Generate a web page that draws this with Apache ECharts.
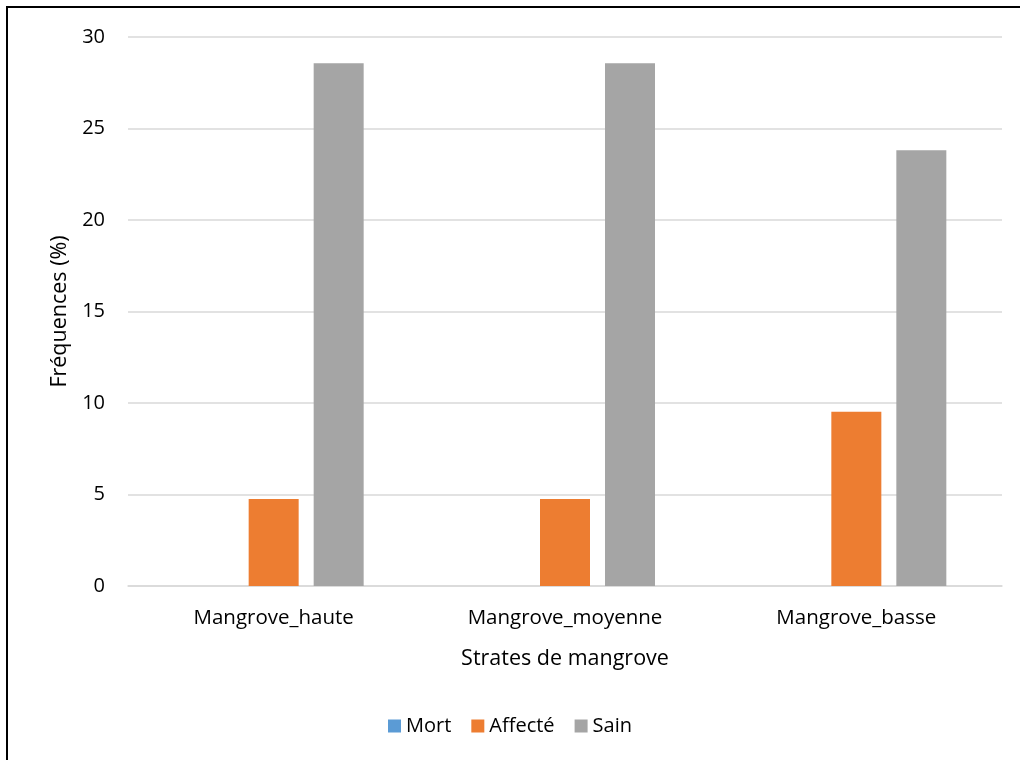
<!DOCTYPE html>
<html>
<head>
<meta charset="utf-8">
<script src="https://cdn.jsdelivr.net/npm/echarts@6/dist/echarts.min.js"></script>
<style>
  html, body { margin: 0; padding: 0; background: #fff; }
  #chart { width: 1020px; height: 760px; }
</style>
</head>
<body>
<div id="chart"></div>
<script>
// Strata of mangrove and the share of trees in each health state (%)
const categories = ['Mangrove_haute', 'Mangrove_moyenne', 'Mangrove_basse'];
const mort = [0, 0, 0];
const affecte = [4.76, 4.76, 9.52];
const sain = [28.57, 28.57, 23.81];
const yTicks = { min: 0, max: 30, interval: 5 };

const FONT = '"Open Sans", "Noto Sans", sans-serif';
const chart = echarts.init(document.getElementById('chart'));

chart.setOption({
  animation: false,
  textStyle: { fontFamily: FONT },
  graphic: [{
    type: 'rect',
    shape: { x: 7, y: 7, width: 1040, height: 800 },
    style: { fill: 'none', stroke: '#000', lineWidth: 2 },
    silent: true
  }],
  grid: { left: 128, right: 18, top: 37, bottom: 174, containLabel: false },
  legend: {
    bottom: 19,
    left: 'center',
    itemWidth: 13,
    itemHeight: 13,
    itemGap: 20,
    icon: 'rect',
    textStyle: { fontFamily: FONT, fontSize: 20, color: '#000' },
    data: ['Mort', 'Affecté', 'Sain']
  },
  xAxis: {
    type: 'category',
    data: categories,
    name: 'Strates de mangrove',
    nameLocation: 'middle',
    nameGap: 62,
    nameTextStyle: { fontFamily: FONT, fontSize: 21.5, color: '#000' },
    axisLine: { show: true, lineStyle: { color: '#D9D9D9', width: 1.5 } },
    axisTick: { show: false },
    axisLabel: { fontFamily: FONT, fontSize: 20.5, color: '#000', margin: 22 }
  },
  yAxis: {
    type: 'value',
    min: yTicks.min,
    max: yTicks.max,
    interval: yTicks.interval,
    name: 'Fréquences (%)',
    nameLocation: 'middle',
    nameGap: 56,
    nameTextStyle: { fontFamily: FONT, fontSize: 21.5, color: '#000' },
    axisLine: { show: false },
    axisTick: { show: false },
    axisLabel: { fontFamily: FONT, fontSize: 20, color: '#000', margin: 23 },
    splitLine: { lineStyle: { color: '#D9D9D9', width: 1.5 } }
  },
  series: [
    { name: 'Mort', type: 'bar', data: mort, itemStyle: { color: '#5B9BD5' },
      barWidth: 50, barGap: '30%' },
    { name: 'Affecté', type: 'bar', data: affecte, itemStyle: { color: '#ED7D31' },
      barWidth: 50, barGap: '30%' },
    { name: 'Sain', type: 'bar', data: sain, itemStyle: { color: '#A5A5A5' },
      barWidth: 50, barGap: '30%' }
  ]
});
</script>
</body>
</html>
